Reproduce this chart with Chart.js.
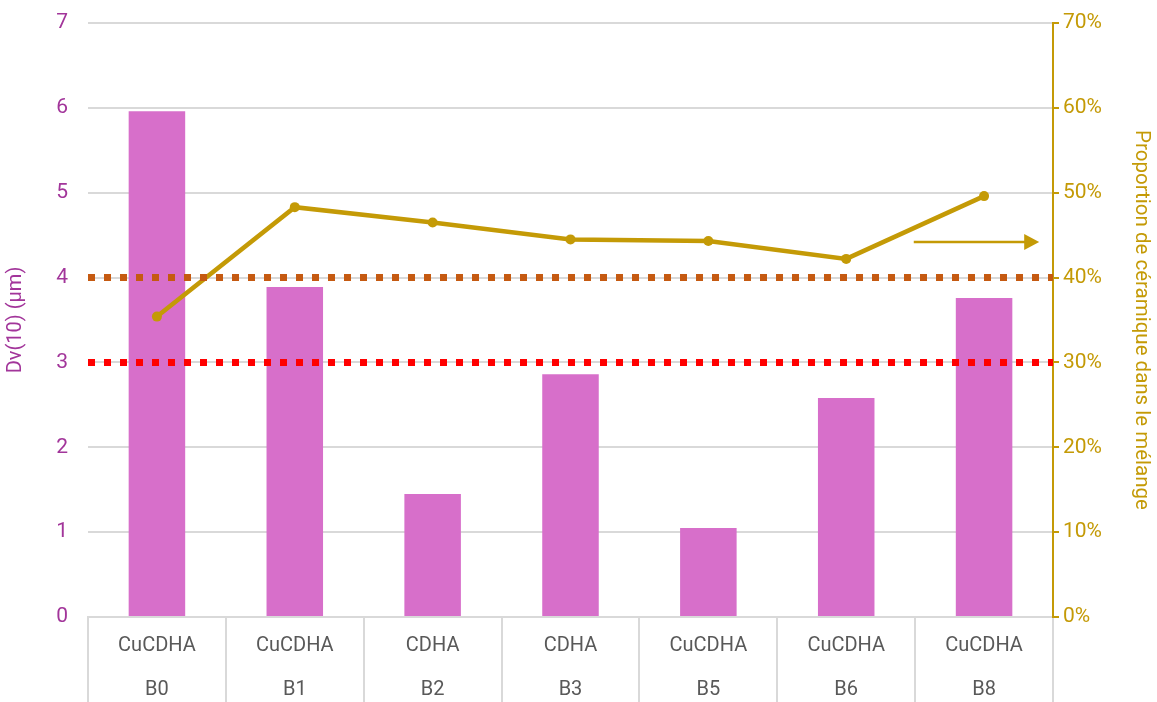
<!DOCTYPE html>
<html>
<head>
<meta charset="utf-8">
<script src="https://cdn.jsdelivr.net/npm/chart.js@4.4.1/dist/chart.umd.min.js"></script>
<style>
  html, body { margin: 0; padding: 0; background: #fff; }
  #wrap { width: 1157px; height: 702px; position: relative; }
</style>
</head>
<body>
<div id="wrap"><canvas id="chart"></canvas></div>
<script>
// Powder batches: material on the first label row, batch id on the second
const materials = ['CuCDHA', 'CuCDHA', 'CDHA', 'CDHA', 'CuCDHA', 'CuCDHA', 'CuCDHA'];
const batches = ['B0', 'B1', 'B2', 'B3', 'B5', 'B6', 'B8'];

// Dv(10) in µm (left axis)
const dv10 = [5.96, 3.89, 1.45, 2.86, 1.05, 2.58, 3.76];

// Ceramic share in the blend (right axis, fraction)
const ceramicShare = [0.354, 0.483, 0.465, 0.445, 0.443, 0.422, 0.496];

// Dv(10) reference levels, µm
const limitValues = [4, 3];

const PURPLE = '#A2359A';
const GOLD = '#C49A06';
const GRID = '#D9D9D9';
const FONT = "Roboto, 'Noto Sans', sans-serif";

Chart.defaults.font.family = FONT;

// dotted reference lines across the whole plot width
const limitLines = {
  id: 'limitLines',
  afterDatasetsDraw(chart) {
    const { ctx, chartArea } = chart;
    const y = chart.scales.y;
    const colors = ['#C55A11', '#FF0000'];
    ctx.save();
    ctx.lineWidth = 7;
    ctx.setLineDash([7, 9]);
    limitValues.forEach((v, i) => {
      const py = y.getPixelForValue(v);
      ctx.strokeStyle = colors[i];
      ctx.beginPath();
      ctx.moveTo(chartArea.left, py);
      ctx.lineTo(chartArea.right, py);
      ctx.stroke();
    });
    ctx.restore();
  }
};

// arrow pointing the line series to its (right-hand) axis
const axisArrow = {
  id: 'axisArrow',
  afterDatasetsDraw(chart) {
    const { ctx } = chart;
    const x = chart.scales.x, y1 = chart.scales.y1;
    const x0 = x.getPixelForValue(5.49);
    const x1 = x.getPixelForValue(6.4);
    const py = y1.getPixelForValue(0.442);
    ctx.save();
    ctx.strokeStyle = GOLD;
    ctx.fillStyle = GOLD;
    ctx.lineWidth = 2.5;
    ctx.beginPath();
    ctx.moveTo(x0, py);
    ctx.lineTo(x1 - 12, py);
    ctx.stroke();
    ctx.beginPath();
    ctx.moveTo(x1, py);
    ctx.lineTo(x1 - 15, py - 8);
    ctx.lineTo(x1 - 15, py + 8);
    ctx.closePath();
    ctx.fill();
    ctx.restore();
  }
};

// fixed axis box sizes; label overhang handled by layout padding
function fixWidth(w) {
  return scale => {
    scale.width = w;
    scale.paddingTop = 0;
    scale.paddingBottom = 0;
  };
}

new Chart(document.getElementById('chart'), {
  data: {
    labels: materials.map((m, i) => [m, batches[i]]),
    datasets: [
      {
        type: 'line',
        label: 'Proportion de céramique',
        data: ceramicShare,
        yAxisID: 'y1',
        borderColor: GOLD,
        backgroundColor: GOLD,
        borderWidth: 4.5,
        pointRadius: 5,
        pointBorderWidth: 0,
        tension: 0,
        order: 0,
      },
      {
        type: 'bar',
        label: 'Dv(10)',
        data: dv10,
        yAxisID: 'y',
        backgroundColor: '#D76FCA',
        barPercentage: 0.41,
        categoryPercentage: 1,
        order: 1,
      },
    ],
  },
  options: {
    responsive: true,
    maintainAspectRatio: false,
    animation: false,
    layout: { padding: { top: 23, bottom: 0, left: 0, right: 0 } },
    plugins: {
      legend: { display: false },
      tooltip: { enabled: false },
    },
    scales: {
      x: {
        grid: {
          offset: true,
          drawOnChartArea: false,
          drawTicks: true,
          tickLength: 85,
          color: GRID,
          lineWidth: 2,
        },
        border: { color: GRID, width: 2 },
        ticks: {
          color: '#595959',
          font: { size: 20, lineHeight: 2.2 },
          padding: -78,
          maxRotation: 0,
        },
        afterFit(scale) { scale.height = 85; },
      },
      y: {
        position: 'left',
        min: 0,
        max: 7,
        ticks: { stepSize: 1, color: PURPLE, font: { size: 21 }, padding: 20 },
        grid: { color: GRID, lineWidth: 2, drawTicks: false },
        border: { display: false },
        title: {
          display: true,
          text: 'Dv(10) (µm)',
          color: PURPLE,
          font: { size: 20 },
          padding: 4,
        },
        afterFit: fixWidth(88),
      },
      y1: {
        position: 'right',
        min: 0,
        max: 0.7,
        ticks: {
          stepSize: 0.1,
          color: GOLD,
          font: { size: 21 },
          padding: 4,
          callback: v => Math.round(v * 100) + '%',
        },
        grid: { drawOnChartArea: false, drawTicks: true, tickLength: 6, color: GOLD, lineWidth: 2 },
        border: { color: GOLD, width: 2 },
        title: {
          display: true,
          text: 'Proportion de céramique dans le mélange',
          color: GOLD,
          font: { size: 20.5 },
          padding: 4,
        },
        afterFit: fixWidth(104),
      },
    },
  },
  plugins: [limitLines, axisArrow],
});
</script>
</body>
</html>
